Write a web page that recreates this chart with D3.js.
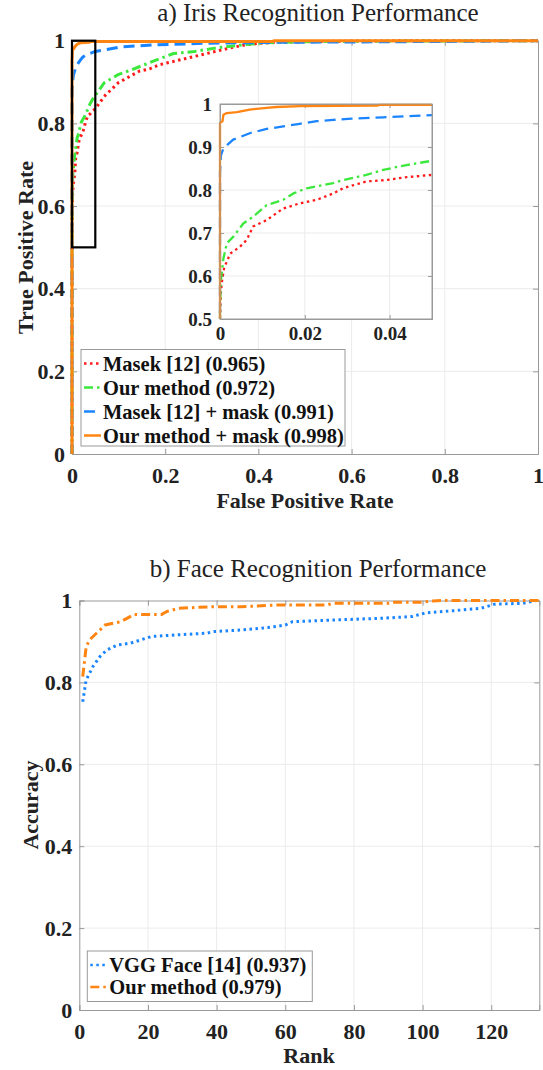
<!DOCTYPE html>
<html>
<head>
<meta charset="utf-8">
<script src="https://cdn.jsdelivr.net/npm/d3@7"></script>
<style>
  body { margin: 0; background: #fff; }
  svg text { font-family: "Liberation Serif", "Times New Roman", serif; fill: #222; }
</style>
</head>
<body>
<svg id="fig" width="543" height="1070"></svg>
<script>
// ---- a) iris ROC curves (values read off the picture) ----
var masekFpr = [0, 0, 0.0002, 0.0005, 0.001, 0.0016, 0.0024, 0.0047, 0.0063, 0.0078, 0.011, 0.0149, 0.0188, 0.0228, 0.0267, 0.029, 0.0345, 0.039, 0.044, 0.05, 0.069, 0.099, 0.131, 0.144, 0.167, 0.188, 0.203, 0.248, 0.293, 0.337, 0.367, 0.404, 0.45, 0.516, 0.6, 0.75, 1];
var masekTpr = [0, 0.5, 0.56, 0.59, 0.62, 0.633, 0.652, 0.668, 0.684, 0.715, 0.73, 0.757, 0.769, 0.777, 0.792, 0.804, 0.82, 0.823, 0.83, 0.835, 0.865, 0.898, 0.918, 0.926, 0.932, 0.942, 0.946, 0.958, 0.970, 0.982, 0.989, 0.994, 0.996, 0.998, 0.999, 1, 1];

var oursFpr = [0, 0, 0.0002, 0.0008, 0.0016, 0.0031, 0.0055, 0.0078, 0.011, 0.0149, 0.0173, 0.0204, 0.0267, 0.029, 0.0345, 0.0385, 0.044, 0.05, 0.069, 0.099, 0.129, 0.173, 0.218, 0.263, 0.307, 0.367, 0.412, 0.516, 0.7, 1];
var oursTpr = [0, 0.52, 0.59, 0.64, 0.676, 0.691, 0.722, 0.738, 0.765, 0.777, 0.792, 0.804, 0.816, 0.823, 0.835, 0.847, 0.858, 0.868, 0.898, 0.918, 0.93, 0.95, 0.969, 0.974, 0.982, 0.99, 0.995, 0.998, 0.999, 1];

var masekMaskFpr = [0, 0, 0.0002, 0.0008, 0.0031, 0.007, 0.011, 0.0149, 0.0188, 0.0228, 0.0267, 0.031, 0.0385, 0.05, 0.106, 0.181, 0.293, 0.441, 0.6, 0.76, 1];
var masekMaskTpr = [0, 0.84, 0.88, 0.897, 0.917, 0.932, 0.942, 0.948, 0.954, 0.96, 0.963, 0.966, 0.969, 0.974, 0.985, 0.99, 0.994, 0.996, 0.997, 0.998, 1];

var oursMaskFpr = [0, 0, 0.0006, 0.0008, 0.0016, 0.004, 0.0055, 0.007, 0.011, 0.0133, 0.0188, 0.037, 0.0377, 0.05, 0.43, 0.434, 1];
var oursMaskTpr = [0, 0.956, 0.96, 0.975, 0.979, 0.981, 0.984, 0.987, 0.991, 0.993, 0.995, 0.996, 0.998, 0.998, 0.998, 1, 1];

var irisLabels = ["Masek [12] (0.965)", "Our method (0.972)", "Masek [12] + mask (0.991)", "Our method + mask (0.998)"];

// ---- b) face CMC curves ----
var vggRank = [1, 2, 4, 6, 8, 11, 15, 18, 21, 28, 37, 39, 47, 55, 60, 62, 73, 89, 97, 101, 109, 117, 121, 129, 133, 134];
var vggAcc  = [0.753, 0.806, 0.839, 0.863, 0.879, 0.891, 0.896, 0.904, 0.912, 0.916, 0.92, 0.924, 0.928, 0.934, 0.94, 0.948, 0.952, 0.957, 0.961, 0.970, 0.975, 0.981, 0.991, 0.993, 1.0, 1.0];
var faceRank = [1, 2, 3, 5, 7.5, 9.5, 12, 16, 21, 24, 25.5, 29, 34, 39, 47, 53, 57, 72, 74, 90, 92, 100, 103, 106, 134];
var faceAcc  = [0.814, 0.887, 0.904, 0.92, 0.94, 0.944, 0.948, 0.966, 0.966, 0.966, 0.973, 0.981, 0.983, 0.985, 0.985, 0.987, 0.989, 0.989, 0.993, 0.993, 0.996, 0.996, 0.999, 1.0, 1.0];
var faceLabels = ["VGG Face [14] (0.937)", "Our method (0.979)"];

var rateTicks = [0, 0.2, 0.4, 0.6, 0.8, 1];
var zoomXTicks = [0, 0.02, 0.04];
var zoomYTicks = [0.5, 0.6, 0.7, 0.8, 0.9, 1];
var rankTicks = [0, 20, 40, 60, 80, 100, 120];

var RED = "#ff1a1a", GREEN = "#3de83d", BLUE = "#1a85ff", ORANGE = "#ff8512";
var AXIS = "#9a9a9a", GRID = "#ebebeb";
var fmt = d3.format("~g");

var svg = d3.select("#fig");

function zip(xs, ys) { return xs.map((v, i) => [v, ys[i]]); }

// frame with grid, box, inward ticks and labels (matlab-ish)
function frame(g, x, y, xt, yt, o) {
	var x0 = x.range()[0], x1 = x.range()[1], y0 = y.range()[0], y1 = y.range()[1];
	g.append("rect").attr("x", x0).attr("y", y1).attr("width", x1 - x0).attr("height", y0 - y1)
	  .style("fill", "#fff");
	g.selectAll(".gx").data(xt.filter(d => d != x.domain()[0] && d != x.domain()[1])).enter()
	  .append("line").attr("x1", d => x(d)).attr("x2", d => x(d)).attr("y1", y0).attr("y2", y1)
	  .style("stroke", GRID);
	g.selectAll(".gy").data(yt.filter(d => d != y.domain()[0] && d != y.domain()[1])).enter()
	  .append("line").attr("y1", d => y(d)).attr("y2", d => y(d)).attr("x1", x0).attr("x2", x1)
	  .style("stroke", GRID);

	var axes = [
		[d3.axisBottom(x).tickValues(xt).tickSize(-o.tick).tickPadding(o.xpad).tickFormat(fmt), "translate(0," + y0 + ")"],
		[d3.axisTop(x).tickValues(xt).tickSize(-o.tick).tickFormat(""), "translate(0," + y1 + ")"],
		[d3.axisLeft(y).tickValues(yt).tickSize(-o.tick).tickPadding(o.ypad).tickFormat(fmt), "translate(" + x0 + ",0)"],
		[d3.axisRight(y).tickValues(yt).tickSize(-o.tick).tickFormat(""), "translate(" + x1 + ",0)"]
	];
	axes.forEach(a => {
		var ax = g.append("g").attr("transform", a[1]).call(a[0]);
		ax.select(".domain").style("stroke", AXIS);
		ax.selectAll(".tick line").style("stroke", AXIS);
		ax.selectAll(".tick text").style("font-size", o.font + "px").style("font-weight", "bold")
		  .style("font-family", '"Liberation Serif", serif').style("fill", "#222");
	});
}

function curve(g, x, y, pts, color, dash, width) {
	g.append("path")
	  .datum(pts)
	  .attr("d", d3.line().x(d => x(d[0])).y(d => y(d[1])))
	  .style("fill", "none")
	  .style("stroke", color)
	  .style("stroke-width", width)
	  .style("stroke-dasharray", dash)
	  .style("stroke-linejoin", "round");
}

function legend(g, x, y, w, h, items, rowH) {
	g.append("rect").attr("x", x).attr("y", y).attr("width", w).attr("height", h)
	  .style("fill", "#fff").style("stroke", AXIS);
	items.forEach((it, i) => {
		var cy = y + 14 + i * rowH;
		g.append("line").attr("x1", x + 3).attr("x2", x + 20).attr("y1", cy).attr("y2", cy)
		  .style("stroke", it.color).style("stroke-width", 2.5).style("stroke-dasharray", it.dash);
		g.append("text").attr("x", x + 22).attr("y", cy + 7).text(it.label)
		  .style("font-size", "20.5px").style("font-weight", "bold").style("fill", "#111");
	});
}

var irisSeries = [
	{pts: zip(masekFpr, masekTpr), color: RED, dash: "2.5,3.5", label: irisLabels[0]},
	{pts: zip(oursFpr, oursTpr), color: GREEN, dash: "9,4,2.5,4", label: irisLabels[1]},
	{pts: zip(masekMaskFpr, masekMaskTpr), color: BLUE, dash: "11,6", label: irisLabels[2]},
	{pts: zip(oursMaskFpr, oursMaskTpr), color: ORANGE, dash: null, label: irisLabels[3]}
];

// ================= a) =================
var gA = svg.append("g");
var xA = d3.scaleLinear().domain([0, 1]).range([72, 538]);
var yA = d3.scaleLinear().domain([0, 1]).range([454, 40.7]);
frame(gA, xA, yA, rateTicks, rateTicks, {tick: 5, xpad: 13, ypad: 7, font: 22});
irisSeries.forEach(s => curve(gA, xA, yA, s.pts, s.color, s.dash, 3));

// zoom box
gA.append("rect")
  .attr("x", xA(0)).attr("y", yA(1))
  .attr("width", xA(0.05) - xA(0)).attr("height", yA(0.5) - yA(1))
  .style("fill", "none").style("stroke", "#000").style("stroke-width", 2.2);

// inset
var gI = svg.append("g");
var xI = d3.scaleLinear().domain([0, 0.05]).range([220, 432]);
var yI = d3.scaleLinear().domain([0.5, 1]).range([319, 104]);
frame(gI, xI, yI, zoomXTicks, zoomYTicks, {tick: 4, xpad: 8, ypad: 8, font: 19});
svg.append("clipPath").attr("id", "clipI").append("rect")
  .attr("x", 217).attr("y", 102).attr("width", 215).attr("height", 217);
var gIc = gI.append("g").attr("clip-path", "url(#clipI)");
irisSeries.forEach(s => curve(gIc, xI, yI, s.pts, s.color, s.dash, 2.3));
gI.append("rect").attr("x", 220).attr("y", 104).attr("width", 212).attr("height", 215)
  .style("fill", "none").style("stroke", AXIS);

legend(gA, 81, 349.5, 264, 96.5, irisSeries, 24);

svg.append("text").attr("x", 318).attr("y", 21).attr("text-anchor", "middle")
  .style("font-size", "25px").text("a) Iris Recognition Performance");
svg.append("text").attr("x", 305).attr("y", 508).attr("text-anchor", "middle")
  .style("font-size", "22px").style("font-weight", "bold").text("False Positive Rate");
svg.append("text").attr("transform", "translate(33,247.5) rotate(-90)").attr("text-anchor", "middle")
  .style("font-size", "22px").style("font-weight", "bold").text("True Positive Rate");

// ================= b) =================
var gB = svg.append("g");
var xB = d3.scaleLinear().domain([0, 134]).range([79.3, 539.3]);
var yB = d3.scaleLinear().domain([0, 1]).range([1010, 600.5]);
frame(gB, xB, yB, rankTicks, rateTicks, {tick: 5, xpad: 13, ypad: 7, font: 22});

var faceSeries = [
	{pts: zip(vggRank, vggAcc), color: BLUE, dash: "2.5,3.5", label: faceLabels[0]},
	{pts: zip(faceRank, faceAcc), color: ORANGE, dash: "9,4,2.5,4", label: faceLabels[1]}
];
faceSeries.forEach(s => curve(gB, xB, yB, s.pts, s.color, s.dash, 3));
legend(gB, 87.3, 951, 225, 50.5, faceSeries, 22);

svg.append("text").attr("x", 318).attr("y", 577).attr("text-anchor", "middle")
  .style("font-size", "25px").text("b) Face Recognition Performance");
svg.append("text").attr("x", 309).attr("y", 1063).attr("text-anchor", "middle")
  .style("font-size", "22px").style("font-weight", "bold").text("Rank");
svg.append("text").attr("transform", "translate(38,805) rotate(-90)").attr("text-anchor", "middle")
  .style("font-size", "22px").style("font-weight", "bold").text("Accuracy");
</script>
</body>
</html>
